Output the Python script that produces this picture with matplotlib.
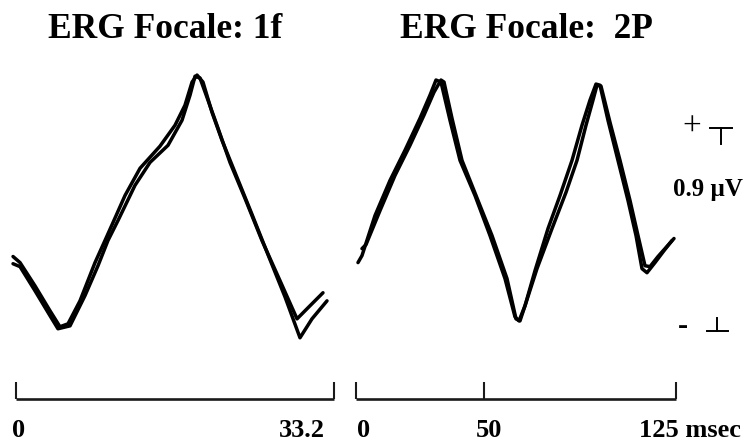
import matplotlib
matplotlib.use("Agg")
import matplotlib.pyplot as plt
import matplotlib.transforms as mtransforms

# ---------------- data ----------------
# Panel 1 (1f), time in ms, amplitude in µV (arbitrary baseline)
t1_a = [-0.31, 0.42, 1.98, 3.55, 4.59, 5.43, 6.68, 8.25, 9.29, 10.13, 11.38, 12.95, 15.03,
        16.60, 17.64, 18.38, 18.90, 19.52, 20.46, 21.51, 22.86, 24.64, 26.52, 28.08, 29.65,
        30.90, 32.47]
v1_a = [-0.249, -0.276, -0.379, -0.490, -0.561, -0.548, -0.446, -0.276, -0.178, -0.098, 0.022,
        0.143, 0.241, 0.334, 0.423, 0.526, 0.557, 0.526, 0.392, 0.267, 0.125, -0.062, -0.263,
        -0.428, -0.610, -0.526, -0.446]
t1_b = [-0.31, 0.42, 1.98, 3.55, 4.38, 5.64, 7.20, 8.56, 9.60, 10.65, 12.42, 13.99, 15.87,
        17.33, 18.17, 18.69, 19.21, 20.04, 21.09, 22.34, 23.91, 25.68, 27.56, 29.34, 30.69,
        32.05]
v1_b = [-0.281, -0.294, -0.401, -0.512, -0.570, -0.557, -0.423, -0.290, -0.178, -0.089, 0.067,
        0.169, 0.245, 0.356, 0.468, 0.552, 0.544, 0.446, 0.321, 0.169, 0.009, -0.178, -0.356,
        -0.526, -0.468, -0.410]

# Panel 2 (2P)
t2_a = [0.78, 2.34, 7.42, 13.28, 19.14, 25.0, 28.91, 31.25, 33.20, 36.72, 40.63, 46.48, 52.34,
        58.20, 62.11, 63.67, 66.02, 69.92, 75.0, 79.69, 84.38, 88.28, 91.41, 93.75, 95.31,
        98.44, 102.34, 106.25, 109.38, 111.72, 113.67, 116.80, 120.31, 123.44]
v2_a = [-0.276, -0.245, -0.067, 0.089, 0.223, 0.365, 0.468, 0.535, 0.526, 0.356, 0.178, 0.022,
        -0.156, -0.347, -0.517, -0.535, -0.468, -0.312, -0.125, 0.022, 0.178, 0.334, 0.446,
        0.517, 0.512, 0.356, 0.178, 0.000, -0.156, -0.303, -0.321, -0.276, -0.223, -0.178]
t2_b = [2.34, 3.91, 9.38, 15.23, 21.09, 26.56, 30.47, 33.20, 34.38, 37.50, 41.41, 46.88, 53.13,
        58.98, 62.50, 64.06, 66.41, 70.70, 76.56, 82.03, 86.33, 89.84, 92.58, 94.14, 95.70,
        99.22, 103.13, 107.03, 110.16, 112.89, 114.84, 117.97, 121.09, 124.22]
v2_b = [-0.214, -0.196, -0.045, 0.111, 0.245, 0.379, 0.481, 0.535, 0.526, 0.365, 0.178, 0.022,
        -0.156, -0.347, -0.526, -0.535, -0.454, -0.303, -0.125, 0.036, 0.178, 0.334, 0.446,
        0.512, 0.508, 0.347, 0.178, 0.000, -0.156, -0.290, -0.294, -0.249, -0.209, -0.169]

titles = ["ERG Focale: 1f", "ERG Focale:  2P"]
xticks1 = [0, 33.2]
xticks2 = [0, 50, 125]
xlabels1 = ["0", "33.2"]
xlabels2 = ["0", "50", "125 msec"]
cal_value = 0.9      # µV calibration bar
cal_top = 0.32
cal_label = "0.9 \u00b5V"

# ---------------- figure ----------------
W, H = 753, 441
fig = plt.figure(figsize=(W / 100, H / 100), dpi=100)
fig.patch.set_facecolor("white")

serif = ["Liberation Serif", "DejaVu Serif"]


def fx(px):
    return px / W


def fy(py):
    return 1 - py / H


ylim = (-0.882, 0.624)
ax_bottom_py, ax_top_py = 399, 60

ax1 = fig.add_axes([fx(16), fy(ax_bottom_py), (334 - 16) / W, (ax_bottom_py - ax_top_py) / H])
ax2 = fig.add_axes([fx(356), fy(ax_bottom_py), (676 - 356) / W, (ax_bottom_py - ax_top_py) / H])

for ax, xmax, ticks in [(ax1, 33.2, xticks1), (ax2, 125, xticks2)]:
    ax.set_xlim(0, xmax)
    ax.set_ylim(*ylim)
    ax.patch.set_alpha(0)
    for s in ["top", "right", "left"]:
        ax.spines[s].set_visible(False)
    ax.spines["bottom"].set_bounds(0, xmax)
    ax.spines["bottom"].set_linewidth(1.9)
    ax.spines["bottom"].set_color("#1a1a1a")
    ax.spines["bottom"].set_capstyle("butt")
    ax.set_yticks([])
    ax.set_xticks(ticks)
    ax.tick_params(axis="x", direction="in", length=12, width=1.5, color="#1a1a1a",
                   labelbottom=False)

lw = 2.5
for ax, t, v in [(ax1, t1_a, v1_a), (ax1, t1_b, v1_b), (ax2, t2_a, v2_a), (ax2, t2_b, v2_b)]:
    ax.plot(t, v, color="black", lw=lw, clip_on=False, solid_joinstyle="round",
            solid_capstyle="round")

# titles
fig.text(fx(165), fy(38), titles[0], ha="center", va="baseline", fontsize=25.5,
         fontweight="bold", family=serif)
fig.text(fx(526), fy(38), titles[1], ha="center", va="baseline", fontsize=25.5,
         fontweight="bold", family=serif)


# bracket labels
def blabel(ax, x, text, ha, dx_px):
    tr = mtransforms.blended_transform_factory(ax.transData, fig.transFigure)
    tr = tr + mtransforms.ScaledTranslation(dx_px / 100, 0, fig.dpi_scale_trans)
    fig.text(x, fy(437), text, transform=tr, ha=ha, va="baseline", fontsize=19,
             fontweight="bold", family=serif)


blabel(ax1, xticks1[0], xlabels1[0], "center", 3)
blabel(ax1, xticks1[1], xlabels1[1], "right", -9)
blabel(ax2, xticks2[0], xlabels2[0], "left", 1)
blabel(ax2, xticks2[1], xlabels2[1], "center", 5)
blabel(ax2, xticks2[2], xlabels2[2], "left", -37)

# calibration bar (T at top, inverted T at bottom)
cal_bottom = cal_top - cal_value
ax2.plot([138.3, 146.9], [cal_top, cal_top], color="black", lw=1.4, clip_on=False)
ax2.plot([142.6, 142.6], [cal_top, cal_top - 0.07], color="black", lw=1.4, clip_on=False)
ax2.plot([137.1, 145.3], [cal_bottom, cal_bottom], color="black", lw=1.4, clip_on=False)
ax2.plot([141.2, 141.2], [cal_bottom, cal_bottom + 0.06], color="black", lw=1.4, clip_on=False)

fig.text(fx(692), fy(127), "+", ha="center", va="center", fontsize=24, family=serif)
fig.text(fx(683), fy(327), "-", ha="center", va="center", fontsize=22, fontweight="bold",
         family=serif)
fig.text(fx(673), fy(196), cal_label, ha="left", va="baseline", fontsize=18,
         fontweight="bold", family=serif)

fig.savefig("out.png", dpi=100, facecolor="white")
